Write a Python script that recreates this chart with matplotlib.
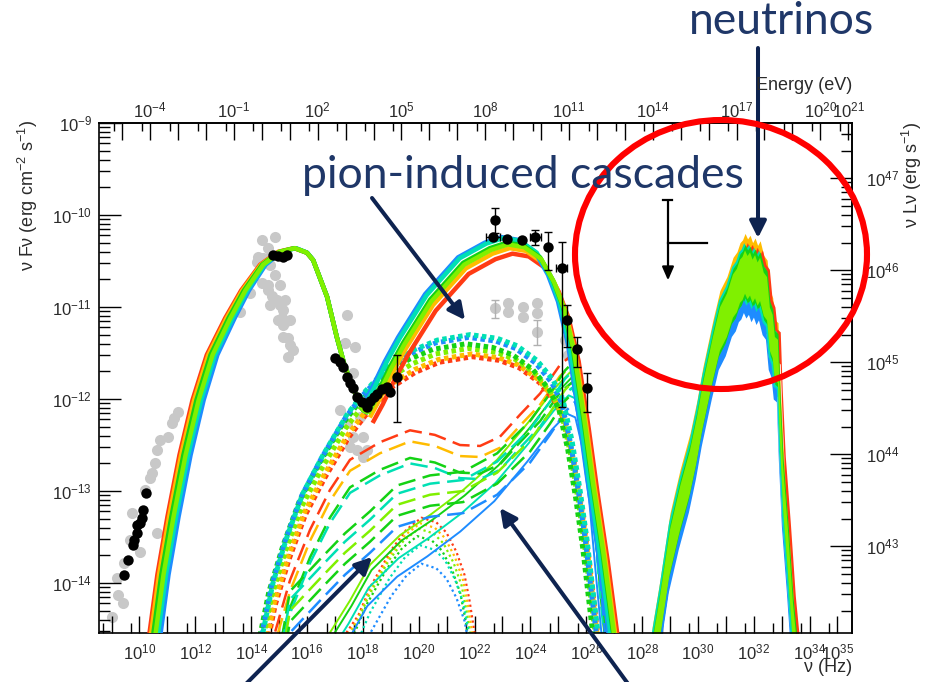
import numpy as np
import matplotlib
matplotlib.use('Agg')
import matplotlib.pyplot as plt
from matplotlib.patches import Ellipse, FancyArrowPatch
from matplotlib.ticker import FixedLocator, FuncFormatter

plt.rcParams['font.family'] = ['Liberation Sans', 'DejaVu Sans']
plt.rcParams['mathtext.fontset'] = 'custom'
plt.rcParams['mathtext.rm'] = 'Liberation Sans'
plt.rcParams['mathtext.it'] = 'Liberation Sans:italic'
plt.rcParams['mathtext.bf'] = 'Liberation Sans:bold'

# all spectral values are log10(nu/Hz) and log10(nu F_nu / erg cm^-2 s^-1)
H_EV = 4.1357e-15        # eV per Hz
LNU_SHIFT = 56.6         # log10(4 pi d^2)

C_RED = '#ff3b14'
C_ORANGE = '#ffbc00'
C_GREEN = '#14d214'
C_LIME = '#80f000'
C_CYAN = '#00e0b4'
C_BLUE = '#1e8cff'

# synchrotron hump (lime model), band half-width in decades of nu
SYNC_LOGNU = [10.38, 10.56, 10.84, 11.20, 11.63, 12.10, 12.60, 13.24, 13.78, 14.42,
              15.03, 15.57, 16.00, 16.22, 16.72, 17.07, 17.36, 17.72, 18.01, 18.19]
SYNC_LOGF = [-15.05, -14.54, -13.91, -13.28, -12.61, -12.01, -11.52, -11.12, -10.82, -10.54,
             -10.40, -10.36, -10.41, -10.49, -10.89, -11.33, -11.65, -11.93, -12.12, -12.15]
SYNC_SPREAD = [0.2, 0.2, 0.2, 0.2, 0.2, 0.2, 0.19, 0.17, 0.14, 0.1,
               0.06, 0.03, 0.01, 0.0, 0.0, 0.0, 0.0, 0.0, 0.0, 0.0]
SYNC_COLORS = [C_RED, C_ORANGE, C_BLUE, C_CYAN, C_GREEN, C_LIME]
SYNC_FRAC = [-1.0, -0.7, 1.0, 0.55, -0.3, 0.1]

# inverse-Compton / total high-energy hump
IC_LOGNU = [18.15, 18.51, 18.97, 19.44, 20.41, 21.59, 22.55, 23.16, 23.74, 24.35,
            24.81, 25.17, 25.53, 25.89, 26.21, 26.57, 26.96, 27.10]
IC_LOGF = [-12.14, -11.94, -11.65, -11.39, -10.92, -10.52, -10.36, -10.30, -10.33, -10.46,
           -10.71, -11.00, -11.47, -12.20, -12.91, -13.64, -14.54, -15.05]
IC_COLORS = [C_RED, C_ORANGE, C_BLUE, C_CYAN, C_GREEN, C_LIME]
IC_DX = [0.2, 0.1, -0.18, -0.12, 0.0, 0.04]
IC_DY = [-0.12, -0.06, 0.06, 0.05, 0.0, -0.02]

# pion-induced cascade (thick dotted)
PION_LOGNU = [14.08, 14.42, 14.78, 15.28, 15.86, 16.57, 17.43, 18.01, 18.97, 19.80, 20.66,
              21.84, 22.81, 23.52, 24.24, 24.81, 25.17, 25.49, 25.78, 26.03, 26.24, 26.42, 26.53]
PION_LOGF = [-15.05, -14.54, -14.00, -13.50, -13.02, -12.61, -12.17, -11.94, -11.63, -11.47, -11.36,
             -11.30, -11.34, -11.42, -11.58, -11.79, -12.01, -12.45, -12.99, -13.53, -14.08, -14.54, -15.05]
PION_COLORS = [C_RED, C_ORANGE, C_LIME, C_GREEN, C_BLUE, C_CYAN]
PION_DX = [0.08, 0.05, -0.05, -0.15, -0.05, 0.0]
PION_DY = [-0.24, -0.21, -0.15, -0.10, -0.03, 0.0]

# dashed components, upper and lower families
DASH_UP_LOGNU = [14.37, 14.85, 15.39, 16.11, 16.82, 17.54, 18.61, 19.69, 20.58, 21.48, 22.20,
                 22.91, 23.63, 24.35, 25.06, 25.49, 25.78, 26.06, 26.32, 26.53, 26.75, 26.90]
DASH_UP_LOGF = [-15.05, -14.54, -13.97, -13.42, -12.99, -12.66, -12.47, -12.34, -12.39, -12.50, -12.51,
                -12.41, -12.17, -11.94, -11.63, -11.52, -11.70, -12.34, -13.10, -13.86, -14.54, -15.05]
DASH_LO_LOGNU = [15.10, 15.39, 16.47, 17.36, 18.26, 19.22, 20.41, 21.59, 22.81, 23.99, 24.70,
                 25.24, 25.60, 25.89, 26.21, 26.49, 26.67, 26.80]
DASH_LO_LOGF = [-15.05, -14.54, -14.19, -13.91, -13.67, -13.39, -13.28, -13.24, -13.04, -12.69, -12.39,
                -12.14, -12.03, -12.45, -13.21, -13.91, -14.54, -15.05]
DASH_FAMILY = ['up', 'up', 'up', 'up', 'lo', 'lo', 'lo', 'lo', 'lo']
DASH_COLORS = [C_RED, C_ORANGE, C_GREEN, C_CYAN, C_GREEN, C_CYAN, C_LIME, C_GREEN, C_BLUE]
DASH_DY = [0.0, -0.12, -0.30, -0.36, 0.45, 0.36, 0.24, 0.12, 0.0]

# thin solid secondaries
THIN_LOGNU = [16.82, 17.54, 18.26, 19.33, 20.41, 21.59, 22.81, 23.99, 24.88, 25.42,
              25.71, 25.96, 26.21, 26.42, 26.64, 26.78, 26.90]
THIN_LOGF = [-14.54, -14.19, -13.80, -13.48, -13.26, -12.99, -12.66, -12.23, -11.88, -11.71,
             -11.75, -12.07, -12.66, -13.37, -14.08, -14.54, -15.05]
THIN_COLORS = [C_GREEN, C_CYAN, C_BLUE, C_LIME]
THIN_DX = [0.05, -0.05, -0.1, 0.0]
THIN_DY = [-0.06, -0.25, -0.45, 0.0]

# fine dotted arches
FINE_LOGNU = [17.36, 17.79, 18.26, 18.97, 19.51, 20.05, 20.58, 20.94, 21.30, 21.59, 21.77, 21.95]
FINE_LOGF = [-14.54, -14.35, -14.02, -13.64, -13.42, -13.29, -13.34, -13.45, -13.66, -13.91, -14.19, -14.54]
FINE_COLORS = [C_RED, C_ORANGE, C_LIME, C_GREEN, C_CYAN, C_BLUE]
FINE_DX = [0.05, 0.0, -0.05, -0.1, 0.0, 0.05]
FINE_DY = [0.0, -0.06, -0.12, -0.2, -0.3, -0.5]

# neutrino hump, upper envelope
NU_LOGNU = [28.28, 28.36, 28.64, 29.00, 29.36, 29.72, 29.97, 30.18, 30.54, 30.79, 31.04, 31.26, 31.40,
            31.51, 31.60, 31.69, 31.78, 31.87, 31.96, 32.05, 32.14, 32.23, 32.36, 32.48, 32.58, 32.68,
            32.76, 32.87, 32.94, 33.05, 33.23, 33.41, 33.55, 33.62]
NU_LOGF = [-15.05, -14.48, -13.97, -13.24, -12.77, -12.37, -12.01, -11.65, -11.14, -10.82, -10.67, -10.46, -10.40,
           -10.30, -10.27, -10.20, -10.26, -10.22, -10.30, -10.25, -10.33, -10.28, -10.44, -10.49, -10.82, -10.90,
           -11.14, -11.17, -11.79, -12.52, -13.24, -14.04, -14.48, -15.05]
NU_COLORS = [C_ORANGE, C_RED, C_CYAN, C_GREEN, C_LIME, C_BLUE]
NU_DX = [0.0, 0.08, -0.05, 0.0, -0.02, -0.06]
NU_TOP = [0.0, -0.1, -0.1, -0.12, -0.18, -0.72]
NU_BOT = [-0.4, -0.45, -0.8, -0.7, -0.65, -0.86]

# observations
BLACK_LOGNU = [9.45, 9.59, 9.77, 9.80, 9.91, 9.91, 10.02, 10.09, 10.13, 10.23,
               14.78, 14.96, 15.14, 15.28,
               17.00, 17.18, 17.29, 17.43, 17.54, 17.65, 17.79, 17.97, 18.15, 18.26, 18.40, 18.51, 18.69, 18.87, 18.97]
BLACK_LOGF = [-13.91, -13.75, -13.59, -13.53, -13.46, -13.37, -13.35, -13.29, -13.21, -13.02,
              -10.44, -10.45, -10.46, -10.44,
              -11.55, -11.60, -11.65, -11.76, -11.83, -11.88, -11.98, -12.03, -12.09, -12.02, -11.98, -11.94, -11.89, -11.87, -11.92]

GREY_LOGNU = [9.02, 9.23, 9.41, 9.20, 9.45, 9.66, 9.73, 10.02, 10.63, 10.20, 10.38, 10.45, 10.56, 10.63,
              10.74, 11.02, 11.17, 11.38, 11.24,
              13.31, 13.60, 13.96, 14.25, 14.42, 14.60, 14.85, 14.39, 14.60, 14.75, 14.85, 14.68, 15.03,
              15.14, 15.21, 15.14, 15.32, 14.96, 15.39,
              14.42, 14.67, 14.21, 14.85, 15.03, 14.60, 15.21, 15.39, 14.93, 15.10, 15.32, 15.50, 15.14,
              14.39, 14.60,
              17.43, 17.36, 17.72, 17.65,
              17.18, 17.43, 17.65, 17.79, 18.01, 18.15, 17.90, 17.54, 18.01,
              22.73, 23.20, 23.20, 23.74, 23.74, 24.24, 24.24, 24.24, 25.24, 25.35]
GREY_LOGF = [-14.37, -14.13, -14.22, -13.95, -13.78, -13.53, -13.24, -13.66, -13.46, -12.99, -12.86, -12.80, -12.69, -12.55,
             -12.45, -12.41, -12.26, -12.14, -12.21,
             -11.07, -11.05, -10.85, -10.46, -10.51, -10.47, -10.24, -10.74, -10.82, -10.88, -10.92, -10.98, -10.98,
             -11.03, -11.16, -11.33, -11.54, -11.14, -11.41,
             -10.47, -10.54, -10.51, -10.65, -10.76, -10.76, -10.92, -11.14, -10.92, -11.12, -11.34, -11.47, -11.20,
             -10.27, -10.36,
             -11.09, -11.39, -11.44, -11.72,
             -12.12, -12.26, -12.41, -12.55, -12.41, -12.55, -12.20, -12.52, -12.63,
             -11.01, -10.96, -11.05, -11.00, -11.11, -10.96, -11.07, -11.27, -11.36, -11.52]

GAMMA_LOGNU = [22.73, 22.66, 23.16, 23.70, 24.17, 24.63, 25.13, 25.31, 25.67, 26.03]
GAMMA_LOGF = [-10.05, -10.24, -10.26, -10.27, -10.24, -10.35, -10.58, -11.14, -11.46, -11.88]
GAMMA_LO = [-10.20, -10.24, -10.26, -10.27, -10.33, -10.60, -12.09, -11.44, -11.65, -12.14]
GAMMA_HI = [-9.92, -10.24, -10.26, -10.27, -10.16, -10.19, -10.29, -10.98, -11.33, -11.72]
GAMMA_XERR = [0.0, 0.24, 0.0, 0.0, 0.2, 0.0, 0.2, 0.0, 0.0, 0.0]

XRAY_LOGNU = [19.22]
XRAY_LOGF = [-11.76]
XRAY_LO = [-12.25]
XRAY_HI = [-11.52]

GREY_ERR_LOGNU = [22.73, 24.24]
GREY_ERR_LOGF = [-11.01, -11.27]
GREY_ERR_LO = [-11.12, -11.41]
GREY_ERR_HI = [-10.92, -11.14]

# neutrino upper limit
UL_LOGNU = 28.93
UL_LOGNU_LO = 28.75
UL_LOGNU_HI = 30.33
UL_LOGF = -10.30
UL_TOP = -9.84
UL_TIP = -10.71

NU_TICKS = list(range(10, 35, 2)) + [35]
E_TICKS = [-4, -1, 2, 5, 8, 11, 14, 17, 20, 21]
F_TICKS = [-14, -13, -12, -11, -10, -9]
L_TICKS = [43, 44, 45, 46, 47]


def p10(a):
    return 10.0 ** np.asarray(a, dtype=float)


fig = plt.figure(figsize=(9.26, 6.82), dpi=100)
ax = fig.add_axes([99 / 926, 1 - 633 / 682, 753 / 926, 510 / 682])
ax.set_xscale('log')
ax.set_yscale('log')

# observations in grey go underneath the models
ax.plot(p10(GREY_LOGNU), p10(GREY_LOGF), 'o', color='#c8c8c8', ms=8, mec='none', zorder=1)
gx = p10(GREY_ERR_LOGNU)
gy = p10(GREY_ERR_LOGF)
ax.errorbar(gx, gy, yerr=[gy - p10(GREY_ERR_LO), p10(GREY_ERR_HI) - gy], fmt='none',
            ecolor='#b0b0b0', elinewidth=1, capsize=3, zorder=1)

# neutrino band
for c, dx, top, bot in zip(NU_COLORS, NU_DX, NU_TOP, NU_BOT):
    x = p10(np.array(NU_LOGNU) + dx)
    ax.fill_between(x, p10(np.array(NU_LOGF) + bot), p10(np.array(NU_LOGF) + top),
                    color=c, lw=0, zorder=2)

# fine dotted arches
for c, dx, dy in zip(FINE_COLORS, FINE_DX, FINE_DY):
    ax.plot(p10(np.array(FINE_LOGNU) + dx), p10(np.array(FINE_LOGF) + dy), color=c,
            lw=1.6, ls=(0, (1, 1.4)), zorder=2)

# thin solid
for c, dx, dy in zip(THIN_COLORS, THIN_DX, THIN_DY):
    ax.plot(p10(np.array(THIN_LOGNU) + dx), p10(np.array(THIN_LOGF) + dy), color=c,
            lw=1.4, zorder=2)

# dashed
for fam, c, dy in zip(DASH_FAMILY, DASH_COLORS, DASH_DY):
    lx, lf = (DASH_UP_LOGNU, DASH_UP_LOGF) if fam == 'up' else (DASH_LO_LOGNU, DASH_LO_LOGF)
    ax.plot(p10(lx), p10(np.array(lf) + dy), color=c, lw=1.8, ls=(0, (7, 3)), zorder=2)

# pion-induced cascades
for c, dx, dy in zip(PION_COLORS, PION_DX, PION_DY):
    ax.plot(p10(np.array(PION_LOGNU) + dx), p10(np.array(PION_LOGF) + dy), color=c,
            lw=3.6, ls=(0, (0.9, 0.7)), dash_capstyle='butt', zorder=2)

# total emission
for c, frac in zip(SYNC_COLORS, SYNC_FRAC):
    x = p10(np.array(SYNC_LOGNU) + frac * np.array(SYNC_SPREAD))
    ax.plot(x, p10(SYNC_LOGF), color=c, lw=3.2, solid_capstyle='butt', zorder=3)
for c, dx, dy in zip(IC_COLORS, IC_DX, IC_DY):
    ax.plot(p10(np.array(IC_LOGNU) + dx), p10(np.array(IC_LOGF) + dy), color=c,
            lw=3.2, solid_capstyle='butt', zorder=3)

# black data
ax.plot(p10(BLACK_LOGNU), p10(BLACK_LOGF), 'o', color='k', ms=7.5, mec='none', zorder=5)
xx = p10(XRAY_LOGNU)
xy = p10(XRAY_LOGF)
ax.errorbar(xx, xy, yerr=[xy - p10(XRAY_LO), p10(XRAY_HI) - xy], fmt='o', color='k', ms=7.5,
            mec='none', elinewidth=1, capsize=3, zorder=5)
gnu = p10(GAMMA_LOGNU)
gf = p10(GAMMA_LOGF)
gxe = np.array(GAMMA_XERR)
ax.errorbar(gnu, gf, yerr=[gf - p10(GAMMA_LO), p10(GAMMA_HI) - gf],
            xerr=[gnu - p10(np.array(GAMMA_LOGNU) - gxe), p10(np.array(GAMMA_LOGNU) + gxe) - gnu],
            fmt='o', color='k', ms=7.5, mec='none', elinewidth=1, capsize=3, zorder=5)

# neutrino upper limit
ax.plot(p10([UL_LOGNU, UL_LOGNU_HI]), p10([UL_LOGF, UL_LOGF]), color='k', lw=1.6, zorder=5)
ax.plot(p10([UL_LOGNU_LO, UL_LOGNU + 0.15]), p10([UL_TOP, UL_TOP]), color='k', lw=1.6, zorder=5)
ax.annotate('', xy=(p10(UL_LOGNU), p10(UL_TIP)), xytext=(p10(UL_LOGNU), p10(UL_TOP)),
            arrowprops=dict(arrowstyle='-|>,head_length=0.8,head_width=0.35', color='k', lw=1.6,
                            mutation_scale=10, shrinkA=0, shrinkB=0), zorder=5)

ax.set_xlim(10 ** 8.55, 10 ** 35.52)
ax.set_ylim(10 ** -14.543, 1e-9)


def pow_label(v):
    return r'$10^{%d}$' % int(round(np.log10(v)))


def label_only(ticks):
    return FuncFormatter(lambda v, p: pow_label(v) if int(round(np.log10(v))) in ticks else '')


TICK_COLOR = '#2a2a2a'

ax.xaxis.set_major_locator(FixedLocator(10.0 ** np.arange(8, 37)))
ax.xaxis.set_minor_locator(FixedLocator([5 * 10.0 ** n for n in range(8, 36)]))
ax.xaxis.set_major_formatter(label_only(NU_TICKS))
ax.yaxis.set_major_locator(FixedLocator(10.0 ** np.arange(-15, -8)))
ax.yaxis.set_minor_locator(FixedLocator([m * 10.0 ** n for n in range(-15, -9) for m in range(2, 10)]))
ax.yaxis.set_major_formatter(label_only(F_TICKS))
ax.tick_params(axis='x', which='major', direction='in', length=12, width=1, labelsize=12,
               pad=7, colors='k', labelcolor=TICK_COLOR, top=False)
ax.tick_params(axis='x', which='minor', direction='in', length=7, width=1, top=False)
ax.tick_params(axis='y', which='major', direction='in', length=16, width=1, labelsize=12,
               pad=5, colors='k', labelcolor=TICK_COLOR, right=False)
ax.tick_params(axis='y', which='minor', direction='in', length=8, width=1, right=False)

top = ax.secondary_xaxis('top', functions=(lambda nu: nu * H_EV, lambda e: e / H_EV))
top.xaxis.set_major_locator(FixedLocator(10.0 ** np.arange(-6, 23)))
top.xaxis.set_minor_locator(FixedLocator([5 * 10.0 ** n for n in range(-7, 22)]))
top.xaxis.set_major_formatter(label_only(E_TICKS))
top.tick_params(which='major', direction='in', length=12, width=1, labelsize=12, pad=2,
                labelcolor=TICK_COLOR)
top.tick_params(which='minor', direction='in', length=6, width=1)

right = ax.secondary_yaxis('right', functions=(lambda f: f * 10 ** LNU_SHIFT,
                                               lambda l: l / 10 ** LNU_SHIFT))
right.yaxis.set_major_locator(FixedLocator(10.0 ** np.arange(41, 49)))
right.yaxis.set_minor_locator(FixedLocator([m * 10.0 ** n for n in range(41, 48) for m in range(2, 10)]))
right.yaxis.set_major_formatter(label_only(L_TICKS))
right.tick_params(which='major', direction='in', length=16, width=1, labelsize=12, pad=10,
                  labelcolor=TICK_COLOR)
right.tick_params(which='minor', direction='in', length=8, width=1)

for s in list(ax.spines.values()):
    s.set_linewidth(1.2)
for s in list(top.spines.values()) + list(right.spines.values()):
    s.set_linewidth(1.2)


def fx(px):
    return px / 926


def fy(py):
    return 1 - py / 682


fig.text(fx(28), fy(120), 'ν Fν (erg cm$^{-2}$ s$^{-1}$)', rotation=90, ha='center', va='top',
         fontsize=13, color=TICK_COLOR)
fig.text(fx(912), fy(122), 'ν Lν (erg s$^{-1}$)', rotation=90, ha='center', va='top',
         fontsize=13, color=TICK_COLOR)
fig.text(fx(852), fy(668), 'ν (Hz)', ha='right', va='center', fontsize=13, color=TICK_COLOR)
fig.text(fx(852), fy(86), 'Energy (eV)', ha='right', va='center', fontsize=13, color=TICK_COLOR)

# slide callouts
NAVY_TEXT = '#1f3768'
NAVY = '#0e2350'
fig.text(fx(782), fy(22), 'neutrinos', ha='center', va='center', fontsize=32,
         family=['Lato', 'DejaVu Sans'], color=NAVY_TEXT)
fig.text(fx(523), fy(175), 'pion-induced cascades', ha='center', va='center', fontsize=32,
         family=['Lato', 'DejaVu Sans'], color=NAVY_TEXT)

ARROWS = [((758, 48), (758, 238)),
          ((372, 198), (465, 320)),
          ((238, 692), (372, 557)),
          ((634, 692), (500, 508))]
for (x0, y0), (x1, y1) in ARROWS:
    fig.add_artist(FancyArrowPatch((fx(x0), fy(y0)), (fx(x1), fy(y1)), transform=fig.transFigure,
                                   arrowstyle='-|>,head_length=1.0,head_width=0.5', mutation_scale=10,
                                   lw=2.9, color=NAVY, shrinkA=0, shrinkB=0))

fig.add_artist(Ellipse((fx(721), fy(254.5)), width=292 / 926, height=269 / 682,
                       transform=fig.transFigure, fill=False, ec='#ff0000', lw=4.4))

fig.savefig('out.png', dpi=100)
